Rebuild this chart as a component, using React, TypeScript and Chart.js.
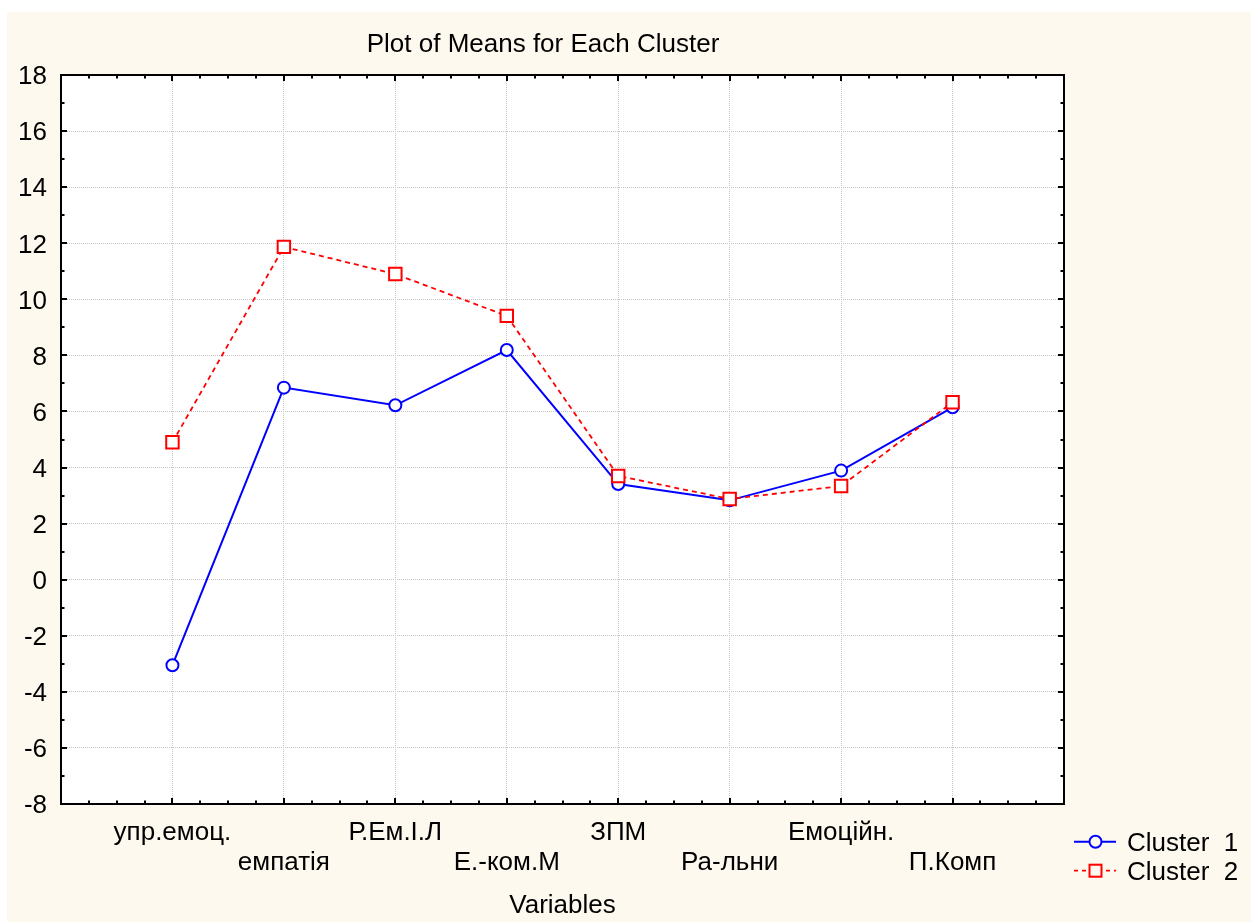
import React, { useEffect, useRef } from 'react';
import { Chart, registerables } from 'chart.js';

Chart.register(...registerables);

const categories = ['упр.емоц.', 'емпатія', 'Р.Ем.І.Л', 'Е.-ком.М', 'ЗПМ', 'Ра-льни', 'Емоційн.', 'П.Комп'];
const cluster1 = [-3.05, 6.85, 6.22, 8.19, 3.41, 2.83, 3.89, 6.15];
const cluster2 = [4.9, 11.87, 10.9, 9.41, 3.7, 2.88, 3.34, 6.33];
const yTicks = [-8, -6, -4, -2, 0, 2, 4, 6, 8, 10, 12, 14, 16, 18];
const seriesNames = ['Cluster  1', 'Cluster  2'];
const chartTitle = 'Plot of Means for Each Cluster';
const xAxisTitle = 'Variables';

const FONT = "26px 'Liberation Sans', Arial, sans-serif";
const CREAM = '#FEF9EE';
const BLUE = '#0000FF';
const RED = '#FF0000';

const statPlugin = {
  id: 'statPlugin',
  beforeDraw(chart: any) {
    const { ctx, chartArea: a } = chart;
    ctx.save();
    ctx.fillStyle = CREAM;
    ctx.fillRect(0, 0, chart.width, chart.height);
    ctx.fillStyle = '#FFFFFF';
    ctx.fillRect(a.left, a.top, a.right - a.left, a.bottom - a.top);
    ctx.restore();
  },
  afterDraw(chart: any) {
    const { ctx, chartArea: a, scales } = chart;
    const xs = scales.x;
    const ys = scales.y;
    ctx.save();
    // tick marks (inward, on all four sides)
    ctx.strokeStyle = '#000';
    ctx.lineWidth = 2;
    ctx.beginPath();
    for (let k = 0; k <= 36; k++) {
      const px = Math.round(xs.getPixelForValue(k / 4));
      const len = k % 4 === 0 ? 6 : 3.5;
      ctx.moveTo(px, a.top);
      ctx.lineTo(px, a.top + len);
      ctx.moveTo(px, a.bottom);
      ctx.lineTo(px, a.bottom - len);
    }
    for (let v = -8; v <= 18; v++) {
      const py = Math.round(ys.getPixelForValue(v));
      const len = v % 2 === 0 ? 6 : 3.5;
      ctx.moveTo(a.left, py);
      ctx.lineTo(a.left + len, py);
      ctx.moveTo(a.right, py);
      ctx.lineTo(a.right - len, py);
    }
    ctx.stroke();
    // frame
    ctx.lineWidth = 2;
    ctx.strokeRect(a.left, a.top, a.right - a.left, a.bottom - a.top);

    // text
    ctx.fillStyle = '#000';
    ctx.font = FONT;
    ctx.textBaseline = 'alphabetic';
    // y tick labels
    ctx.textAlign = 'right';
    yTicks.forEach((v) => {
      ctx.fillText(String(v), a.left - 14, ys.getPixelForValue(v) + 9.3);
    });
    // x category labels (staggered)
    ctx.textAlign = 'center';
    categories.forEach((c, i) => {
      const px = xs.getPixelForValue(i + 1);
      ctx.fillText(c, px, a.bottom + (i % 2 === 0 ? 36 : 66));
    });
    // axis title
    ctx.fillText(xAxisTitle, (a.left + a.right) / 2, a.bottom + 109);
    // chart title
    ctx.fillText(chartTitle, 536, 39.7);

    // legend
    const lx0 = a.right + 10;
    const lx1 = a.right + 52;
    const mx = a.right + 31.5;
    const rows = [a.bottom + 37.7, a.bottom + 66.7];
    // series 1
    ctx.strokeStyle = BLUE;
    ctx.lineWidth = 2;
    ctx.setLineDash([]);
    ctx.beginPath();
    ctx.moveTo(lx0, rows[0]);
    ctx.lineTo(lx1, rows[0]);
    ctx.stroke();
    ctx.beginPath();
    ctx.arc(mx, rows[0], 6, 0, Math.PI * 2);
    ctx.fillStyle = CREAM;
    ctx.fill();
    ctx.stroke();
    // series 2
    ctx.strokeStyle = RED;
    ctx.lineWidth = 1.8;
    ctx.setLineDash([4, 4]);
    ctx.beginPath();
    ctx.moveTo(lx0, rows[1]);
    ctx.lineTo(lx1, rows[1]);
    ctx.stroke();
    ctx.setLineDash([]);
    ctx.lineWidth = 2;
    ctx.fillStyle = CREAM;
    ctx.fillRect(mx - 6, rows[1] - 6, 12, 12);
    ctx.strokeRect(mx - 6, rows[1] - 6, 12, 12);
    ctx.fillStyle = '#000';
    ctx.textAlign = 'left';
    ctx.fillText(seriesNames[0], a.right + 63, rows[0] + 9.3);
    ctx.fillText(seriesNames[1], a.right + 63, rows[1] + 9.3);
    ctx.restore();
  },
};

export default function App() {
  const ref = useRef<HTMLCanvasElement | null>(null);
  useEffect(() => {
    if (!ref.current) return;
    const chart = new Chart(ref.current, {
      type: 'line',
      data: {
        datasets: [
          {
            label: seriesNames[0],
            data: cluster1.map((v, i) => ({ x: i + 1, y: v })),
            borderColor: BLUE,
            borderWidth: 2,
            pointStyle: 'circle',
            pointRadius: 6,
            pointBorderWidth: 2,
            pointBackgroundColor: '#FFFFFF',
            pointBorderColor: BLUE,
            tension: 0,
            order: 1,
          },
          {
            label: seriesNames[1],
            data: cluster2.map((v, i) => ({ x: i + 1, y: v })),
            borderColor: RED,
            borderWidth: 1.8,
            borderDash: [5, 4],
            pointStyle: 'rect',
            pointRadius: 8.8,
            pointBorderWidth: 2,
            pointBackgroundColor: '#FFFFFF',
            pointBorderColor: RED,
            tension: 0,
            order: 0,
          },
        ],
      },
      options: {
        animation: false,
        responsive: false,
        maintainAspectRatio: false,
        devicePixelRatio: 1,
        layout: { padding: { left: 0, top: 63, right: 187, bottom: 0 } },
        plugins: {
          legend: { display: false },
          tooltip: { enabled: false },
          title: { display: false },
        },
        scales: {
          x: {
            type: 'linear',
            min: 0,
            max: 9,
            ticks: { stepSize: 1, display: false },
            grid: { color: '#C4C4C4', lineWidth: 1, drawTicks: false },
            border: { display: false, dash: [1, 1] },
            afterFit: (s: any) => {
              s.height = 118;
            },
          },
          y: {
            type: 'linear',
            min: -8,
            max: 18,
            ticks: { stepSize: 2, display: false },
            grid: { color: '#C4C4C4', lineWidth: 1, drawTicks: false },
            border: { display: false, dash: [1, 1] },
            afterFit: (s: any) => {
              s.width = 54;
            },
          },
        },
      },
      plugins: [statPlugin],
    } as any);
    return () => chart.destroy();
  }, []);
  return (
    <div
      style={{
        position: 'absolute',
        left: 7,
        top: 12,
        width: 1244,
        height: 910,
        background: CREAM,
      }}
    >
      <canvas ref={ref} width={1244} height={910} style={{ display: 'block', width: 1244, height: 910 }} />
    </div>
  );
}
